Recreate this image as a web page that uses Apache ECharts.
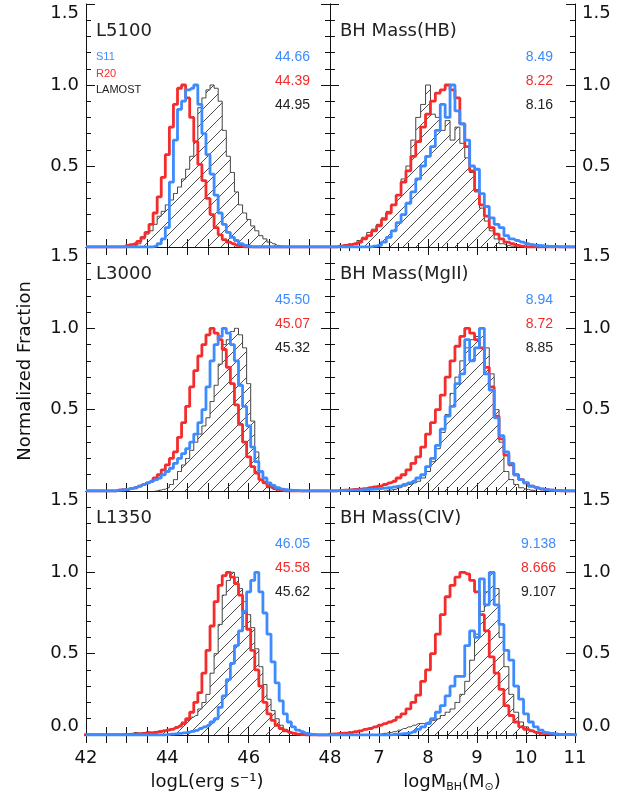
<!DOCTYPE html>
<html><head><meta charset="utf-8">
<script src="https://cdn.jsdelivr.net/npm/echarts@6/dist/echarts.min.js"></script>
<style>html,body{margin:0;padding:0;background:#fff}#c{width:641px;height:799px}</style>
</head><body><div id="c"></div>
<script>
// ---------------- data ----------------
const BIN = 0.1;
const lumRange = [42, 48];
const massRange = [6, 11];
const yRange = [0, 1.5];
const lumTickLabels = [42, 44, 46, 48];
const massTickLabels = [7, 8, 9, 10, 11];
const yTickLabels = [0.0, 0.5, 1.0, 1.5];

const panelTitles = ['L5100', 'BH Mass(HB)', 'L3000', 'BH Mass(MgII)', 'L1350', 'BH Mass(CIV)'];
const medS11 = ['44.66', '8.49', '45.50', '8.94', '46.05', '9.138'];
const medR20 = ['44.39', '8.22', '45.07', '8.72', '45.58', '8.666'];
const medLAMOST = ['44.95', '8.16', '45.32', '8.85', '45.62', '9.107'];
const legendNames = ['S11', 'R20', 'LAMOST'];

// L5100
const L5100_S11_START = 43.7;
const L5100_S11 = [0.005,0.02,0.05,0.12,0.40,0.66,0.85,0.90,0.97,0.98,1.0,0.88,0.70,0.57,0.45,0.32,0.21,0.14,0.09,0.06,0.04,0.02,0.01,0.005];
const L5100_R20_START = 43.0;
const L5100_R20 = [0.01,0.015,0.02,0.035,0.06,0.09,0.14,0.21,0.31,0.43,0.57,0.74,0.88,0.98,1.0,0.92,0.80,0.65,0.51,0.41,0.30,0.20,0.12,0.075,0.045,0.03,0.02,0.01,0.005];
const L5100_LAM_START = 43.2;
const L5100_LAM = [0.01,0.02,0.05,0.08,0.10,0.14,0.19,0.22,0.26,0.29,0.33,0.37,0.42,0.48,0.56,0.65,0.86,0.92,0.97,1.0,0.98,0.90,0.72,0.56,0.46,0.34,0.26,0.21,0.17,0.13,0.10,0.07,0.05,0.03,0.02,0.01,0.005];

// BH mass (Hbeta)
const HB_S11_START = 6.9;
const HB_S11 = [0.005,0.01,0.03,0.06,0.10,0.15,0.20,0.27,0.34,0.42,0.50,0.56,0.62,0.72,0.88,0.80,1.0,0.84,0.76,0.66,0.50,0.48,0.33,0.25,0.18,0.14,0.12,0.07,0.05,0.04,0.03,0.02,0.015,0.01,0.008,0.005,0.003,0.002,0.001];
const HB_R20_START = 6.2;
const HB_R20 = [0.005,0.01,0.015,0.02,0.03,0.05,0.07,0.10,0.13,0.17,0.21,0.26,0.32,0.40,0.47,0.56,0.65,0.74,0.82,0.90,0.95,0.97,1.0,0.97,0.92,0.76,0.62,0.47,0.35,0.26,0.19,0.12,0.08,0.05,0.03,0.02,0.01,0.005];
const HB_LAM_START = 6.3;
const HB_LAM = [0.005,0.01,0.02,0.04,0.06,0.09,0.11,0.14,0.18,0.22,0.26,0.32,0.42,0.50,0.66,0.80,0.88,1.0,0.82,0.80,0.72,0.78,0.66,0.74,0.64,0.55,0.46,0.34,0.24,0.16,0.10,0.05,0.02,0.01,0.005];

// L3000
const L3000_S11_START = 42.8;
const L3000_S11 = [0.005,0.006,0.01,0.015,0.02,0.03,0.04,0.05,0.06,0.07,0.08,0.10,0.12,0.14,0.17,0.20,0.23,0.26,0.30,0.35,0.42,0.50,0.64,0.80,0.90,0.95,1.0,0.97,0.90,0.80,0.65,0.52,0.40,0.27,0.18,0.12,0.08,0.05,0.035,0.02,0.012,0.008,0.005,0.004,0.003];
const L3000_R20_START = 42.8;
const L3000_R20 = [0.005,0.008,0.01,0.015,0.02,0.03,0.04,0.05,0.06,0.08,0.10,0.13,0.16,0.20,0.24,0.33,0.42,0.52,0.64,0.74,0.83,0.90,0.96,1.0,0.97,0.93,0.87,0.76,0.66,0.53,0.41,0.30,0.21,0.15,0.11,0.07,0.05,0.03,0.02,0.01,0.005];
const L3000_LAM_START = 43.8;
const L3000_LAM = [0.005,0.01,0.02,0.04,0.07,0.12,0.16,0.20,0.25,0.30,0.35,0.40,0.45,0.55,0.65,0.78,0.90,0.93,0.98,1.0,0.96,0.88,0.66,0.43,0.24,0.12,0.06,0.02,0.01];

// BH mass (MgII)
const MG_S11_START = 6.2;
const MG_S11 = [0.003,0.004,0.005,0.005,0.006,0.008,0.01,0.012,0.015,0.018,0.02,0.025,0.03,0.04,0.05,0.06,0.08,0.10,0.15,0.20,0.28,0.38,0.46,0.52,0.66,0.72,0.93,0.80,0.88,1.0,0.72,0.62,0.45,0.34,0.24,0.17,0.10,0.07,0.05,0.03,0.02,0.013,0.008,0.005,0.004,0.003];
const MG_R20_START = 6.2;
const MG_R20 = [0.003,0.005,0.007,0.01,0.012,0.015,0.02,0.025,0.03,0.04,0.05,0.06,0.08,0.10,0.13,0.17,0.21,0.27,0.35,0.42,0.50,0.59,0.70,0.80,0.89,0.95,1.0,0.97,0.93,0.88,0.76,0.64,0.46,0.32,0.22,0.16,0.10,0.07,0.05,0.03,0.02,0.012,0.008,0.005,0.003];
const MG_LAM_START = 7.2;
const MG_LAM = [0.005,0.01,0.02,0.03,0.04,0.05,0.06,0.08,0.12,0.18,0.26,0.36,0.47,0.60,0.70,0.80,0.88,0.93,0.95,1.0,0.88,0.72,0.50,0.30,0.12,0.07,0.04,0.02,0.01,0.005];

// L1350
const L1350_S11_START = 44.0;
const L1350_S11 = [0.003,0.005,0.007,0.01,0.013,0.017,0.022,0.028,0.04,0.05,0.06,0.08,0.10,0.17,0.24,0.34,0.44,0.55,0.64,0.76,0.88,0.95,1.0,0.88,0.75,0.62,0.45,0.32,0.21,0.13,0.08,0.05,0.03,0.02,0.01,0.005,0.003];
const L1350_R20_START = 42.0;
const L1350_R20 = [0.002,0.002,0.002,0.002,0.002,0.002,0.002,0.002,0.002,0.002,0.003,0.004,0.005,0.006,0.008,0.01,0.012,0.015,0.02,0.025,0.03,0.035,0.045,0.055,0.07,0.10,0.14,0.20,0.26,0.38,0.52,0.67,0.82,0.92,0.98,1.0,0.97,0.93,0.86,0.76,0.65,0.52,0.40,0.30,0.20,0.13,0.09,0.06,0.04,0.025,0.015,0.01,0.005,0.003];
const L1350_LAM_START = 42.8;
const L1350_LAM = [0.003,0.005,0.008,0.01,0.015,0.012,0.015,0.02,0.018,0.022,0.025,0.03,0.035,0.04,0.05,0.06,0.08,0.09,0.11,0.12,0.16,0.20,0.25,0.38,0.50,0.68,0.86,0.95,1.0,0.97,0.90,0.82,0.74,0.66,0.53,0.42,0.31,0.22,0.15,0.10,0.06,0.035,0.02,0.01,0.005];

// BH mass (CIV)
const CIV_S11_START = 7.3;
const CIV_S11 = [0.003,0.005,0.008,0.012,0.02,0.035,0.05,0.07,0.10,0.14,0.18,0.24,0.30,0.36,0.36,0.55,0.64,0.60,0.96,0.80,1.0,0.80,0.68,0.52,0.46,0.30,0.22,0.13,0.08,0.05,0.03,0.015,0.01,0.006,0.004,0.003,0.002,0.001];
const CIV_R20_START = 6.0;
const CIV_R20 = [0.005,0.007,0.01,0.012,0.015,0.02,0.025,0.035,0.04,0.05,0.06,0.07,0.08,0.09,0.11,0.13,0.16,0.20,0.245,0.33,0.40,0.50,0.62,0.74,0.85,0.92,0.97,1.0,0.99,0.95,0.88,0.74,0.64,0.48,0.38,0.28,0.18,0.12,0.08,0.05,0.035,0.025,0.015,0.01,0.008,0.005,0.004,0.003,0.002,0.002,0.001];
const CIV_LAM_START = 7.0;
const CIV_LAM = [0.005,0.01,0.015,0.02,0.03,0.04,0.05,0.06,0.07,0.07,0.08,0.09,0.10,0.12,0.14,0.16,0.20,0.25,0.33,0.46,0.62,0.76,0.88,1.0,0.90,0.60,0.42,0.25,0.14,0.08,0.05,0.03,0.015,0.008,0.004];

// ---------------- assembly ----------------
const panels = [
  {lum: true,  s11: [L5100_S11_START, L5100_S11], r20: [L5100_R20_START, L5100_R20], lam: [L5100_LAM_START, L5100_LAM]},
  {lum: false, s11: [HB_S11_START, HB_S11], r20: [HB_R20_START, HB_R20], lam: [HB_LAM_START, HB_LAM]},
  {lum: true,  s11: [L3000_S11_START, L3000_S11], r20: [L3000_R20_START, L3000_R20], lam: [L3000_LAM_START, L3000_LAM]},
  {lum: false, s11: [MG_S11_START, MG_S11], r20: [MG_R20_START, MG_R20], lam: [MG_LAM_START, MG_LAM]},
  {lum: true,  s11: [L1350_S11_START, L1350_S11], r20: [L1350_R20_START, L1350_R20], lam: [L1350_LAM_START, L1350_LAM]},
  {lum: false, s11: [CIV_S11_START, CIV_S11], r20: [CIV_R20_START, CIV_R20], lam: [CIV_LAM_START, CIV_LAM]}
];

const BLUE = '#3d8bff', RED = '#f52c2c', BLACK = '#222';
const BIG = 'DejaVu Sans', SMALL = 'Liberation Sans';

function r2(v){ return Math.round(v * 100) / 100; }
function steps(start, vals, range, extend){
  const pts = [];
  if (extend && range[0] < start - BIN - 1e-9) pts.push([range[0], 0]);
  pts.push([r2(start - BIN), 0]);
  vals.forEach((v, i) => pts.push([r2(start + i * BIN), v]));
  const end = r2(start + vals.length * BIN);
  pts.push([end, 0]);
  if (extend && range[1] > end + 1e-9) pts.push([range[1], 0]);
  return pts;
}

function hatchCanvas(){
  const s = 13;
  const c = document.createElement('canvas'); c.width = s; c.height = s;
  const g = c.getContext('2d');
  g.strokeStyle = '#3a3a3a'; g.lineWidth = 0.9;
  g.beginPath();
  g.moveTo(-1, s + 1); g.lineTo(s + 1, -1);
  g.moveTo(-s/2 - 1, s/2 + 1); g.lineTo(s/2 + 1, -s/2 - 1);
  g.moveTo(s/2 - 1, s * 1.5 + 1); g.lineTo(s * 1.5 + 1, s/2 - 1);
  g.stroke();
  return c;
}
const hatch = hatchCanvas();

const gridPos = [
  {left: 86,  top: 4,   width: 244, height: 243},
  {left: 330, top: 4,   width: 245, height: 243},
  {left: 86,  top: 247, width: 244, height: 244},
  {left: 330, top: 247, width: 245, height: 244},
  {left: 86,  top: 491, width: 244, height: 244},
  {left: 330, top: 491, width: 245, height: 244}
];

const grid = [], xAxis = [], yAxis = [], series = [], graphic = [];
const axisLine = {show: true, lineStyle: {color: '#111', width: 1}};

panels.forEach((p, i) => {
  const col = i % 2, row = Math.floor(i / 2);
  const bottomRow = row === 2;
  grid.push(Object.assign({containLabel: false}, gridPos[i]));
  const range = p.lum ? lumRange : massRange;
  const xTickLen = {show: true, inside: true, length: 8, lineStyle: {color: '#111'}};
  const xMinor = {show: true, splitNumber: p.lum ? 2 : 5, length: p.lum ? 8 : 4, lineStyle: {color: '#111'}};
  const xLabelFn = v => {
    const r = Math.round(v * 10) / 10;
    return (p.lum ? lumTickLabels : massTickLabels).includes(r) ? String(r) : '';
  };
  xAxis.push({
    gridIndex: i, type: 'value', position: 'bottom', min: range[0], max: range[1], interval: 1,
    axisLine, axisTick: xTickLen, minorTick: xMinor, splitLine: {show: false},
    axisLabel: {show: bottomRow, formatter: xLabelFn, margin: 14, color: '#111', fontSize: 18, fontFamily: BIG}
  });
  xAxis.push({
    gridIndex: i, type: 'value', position: 'top', min: range[0], max: range[1], interval: 1,
    axisLine, axisTick: xTickLen, minorTick: xMinor, splitLine: {show: false}, axisLabel: {show: false}
  });
  const yTick = {show: true, inside: true, length: 9, lineStyle: {color: '#111'}};
  const yMinor = {show: true, splitNumber: 5, length: 5, lineStyle: {color: '#111'}};
  const yLabel = (show) => ({
    show, margin: 7, color: '#111', fontSize: 18, fontFamily: BIG,
    verticalAlignMaxLabel: 'top', verticalAlignMinLabel: 'bottom',
    formatter: v => {
      const r = Math.round(v * 10) / 10;
      if (!yTickLabels.includes(r)) return '';
      if (r === 0 && !bottomRow) return '';
      return r.toFixed(1);
    }
  });
  yAxis.push({
    gridIndex: i, type: 'value', position: 'left', min: yRange[0], max: yRange[1], interval: 0.5,
    axisLine, axisTick: yTick, minorTick: yMinor, splitLine: {show: false}, axisLabel: yLabel(col === 0)
  });
  yAxis.push({
    gridIndex: i, type: 'value', position: 'right', min: yRange[0], max: yRange[1], interval: 0.5,
    axisLine, axisTick: yTick, minorTick: yMinor, splitLine: {show: false}, axisLabel: yLabel(col === 1)
  });
  const xi = 2 * i, yi = 2 * i;
  series.push({
    name: 'LAMOST', type: 'line', xAxisIndex: xi, yAxisIndex: yi, step: 'middle', symbol: 'none',
    data: steps(p.lam[0], p.lam[1], range, false), z: 2,
    lineStyle: {color: '#444', width: 1}, areaStyle: {color: {image: hatch, repeat: 'repeat'}, opacity: 1},
    silent: true, animation: false
  });
  series.push({
    name: 'R20', type: 'line', xAxisIndex: xi, yAxisIndex: yi, step: 'middle', symbol: 'none',
    data: steps(p.r20[0], p.r20[1], range, true), z: 3,
    lineStyle: {color: RED, width: 2.8}, silent: true, animation: false
  });
  series.push({
    name: 'S11', type: 'line', xAxisIndex: xi, yAxisIndex: yi, step: 'middle', symbol: 'none',
    data: steps(p.s11[0], p.s11[1], range, true), z: 4,
    lineStyle: {color: BLUE, width: 2.8}, silent: true, animation: false
  });

  // titles and medians
  const g = gridPos[i];
  graphic.push({type: 'text', x: g.left + 10, y: g.top + 27, z: 10,
    style: {text: panelTitles[i], fill: '#222', fontSize: 18, fontFamily: BIG, align: 'left', verticalAlign: 'middle', textAlign: 'left', textVerticalAlign: 'middle'}});
  const rx = col === 0 ? 310 : (i === 5 ? 556 : 553);
  [[medS11[i], BLUE], [medR20[i], RED], [medLAMOST[i], BLACK]].forEach((m, k) => {
    graphic.push({type: 'text', x: rx, y: g.top + 53 + k * 24, z: 10,
      style: {text: m[0], fill: m[1], fontSize: 14, fontFamily: SMALL, align: 'right', verticalAlign: 'middle', textAlign: 'right', textVerticalAlign: 'middle'}});
  });
});

// small legend in first panel
[[legendNames[0], BLUE], [legendNames[1], RED], [legendNames[2], BLACK]].forEach((m, k) => {
  graphic.push({type: 'text', x: 96, y: 57 + k * 16.5, z: 10,
    style: {text: m[0], fill: m[1], fontSize: 11, fontFamily: SMALL, align: 'left', verticalAlign: 'middle', textAlign: 'left', textVerticalAlign: 'middle'}});
});

// axis names
graphic.push({type: 'text', x: 25, y: 371, rotation: Math.PI / 2, z: 10,
  style: {text: 'Normalized Fraction', fill: '#111', fontSize: 18, fontFamily: BIG, align: 'center', verticalAlign: 'middle', textAlign: 'center', textVerticalAlign: 'middle'}});
graphic.push({type: 'text', x: 207, y: 782, z: 10,
  style: {text: 'logL(erg s⁻¹)', fill: '#111', fontSize: 18, fontFamily: BIG, align: 'center', verticalAlign: 'middle', textAlign: 'center', textVerticalAlign: 'middle'}});
graphic.push({type: 'text', x: 452, y: 782, z: 10,
  style: {text: '{a|logM}{b|BH}{a|(M}{c|⊙}{a|)}', fill: '#111', align: 'center', verticalAlign: 'middle', textAlign: 'center', textVerticalAlign: 'middle',
    rich: {
      a: {fontSize: 18, fontFamily: BIG, fill: '#111', lineHeight: 22},
      b: {fontSize: 11, fontFamily: BIG, fill: '#111', padding: [10, 0, 0, 0], lineHeight: 22},
      c: {fontSize: 11, fontFamily: BIG, fill: '#111', padding: [10, 0, 0, 0], lineHeight: 22}
    }}});

const chart = echarts.init(document.getElementById('c'), null, {renderer: 'canvas'});
chart.setOption({animation: false, backgroundColor: '#fff', grid, xAxis, yAxis, series, graphic});
</script>
</body></html>
